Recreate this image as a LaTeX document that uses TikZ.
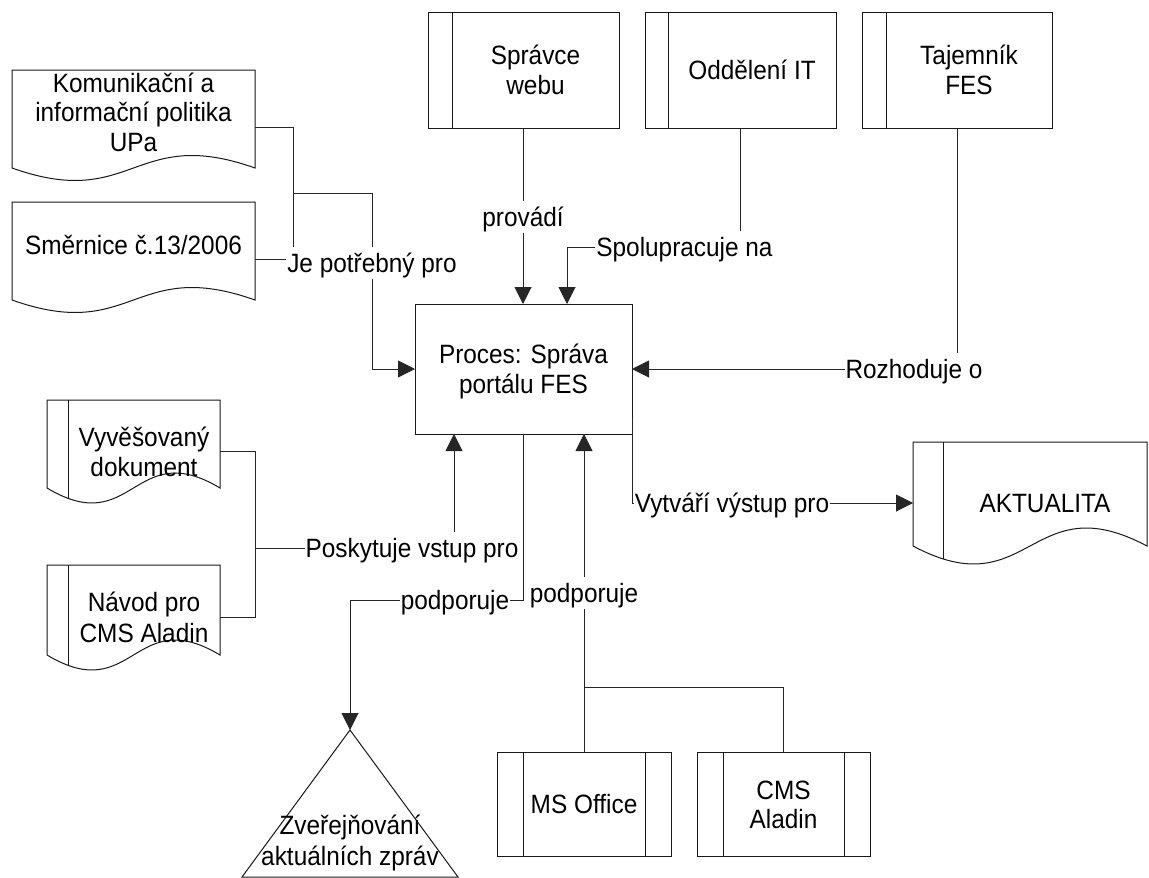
\documentclass[tikz,border=0pt]{standalone}
\usepackage{fontspec}
\setmainfont{Liberation Sans}[FakeStretch=0.92]
\usetikzlibrary{arrows.meta}
\newcommand\lbf{\fontsize{26.5}{29}\selectfont}
\newcommand\vs{\rule[-5pt]{0pt}{29pt}}
\newcommand\docpathspec[5]{(#1,#3) -- (#2,#3) -- (#2,#4) .. controls ({(#1+#2)/2},{#4-3.46*#5}) and ({(#1+#2)/2},{#4+3.46*#5}) .. (#1,#4) -- cycle}
\tikzset{
  shp/.style={draw=black!90, line width=1pt},
  conn/.style={draw=black!85, line width=1pt},
  arr/.style={-{Triangle[length=17pt,width=17pt]}},
  txt/.style={align=center, inner sep=0pt, outer sep=0pt, font=\lbf},
  lbl/.style={fill=white, inner sep=1pt, outer sep=0pt, font=\lbf},
}
\begin{document}
\begin{tikzpicture}[x=1pt,y=-1pt,line join=miter]
\fill[white] (0,0) rectangle (1149,878);
\useasboundingbox (0,0) rectangle (1149,878);

% ---------- top actor boxes ----------
\node[shp,txt,minimum width=167,minimum height=116] (sw) at (535.5,70) {\vs Správce\\\vs webu};
\draw[shp] (sw.north west) -- ++(-24,0) |- (sw.south west);
\node[shp,txt,minimum width=168,minimum height=116] (it) at (752,70) {\vs Oddělení IT};
\draw[shp] (it.north west) -- ++(-23,0) |- (it.south west);
\node[shp,txt,minimum width=166,minimum height=116] (taj) at (969,70) {\vs Tajemník\\\vs FES};
\draw[shp] (taj.north west) -- ++(-24,0) |- (taj.south west);

% ---------- process ----------
\node[shp,txt,minimum width=217,minimum height=130] (proc) at (523.5,369) {\vs Proces: Správa\\\vs portálu FES};

% ---------- documents, left ----------
\draw[shp] \docpathspec{12}{255}{70}{168}{12.5};
\node[txt] (kom) at (133.5,112.5) {\vs Komunikační a\\\vs informační politika\\\vs UPa};
\draw[shp] \docpathspec{12}{255}{202}{300}{12.5};
\node[txt] (sm) at (133.5,245) {\vs Směrnice č.13/2006};

\draw[shp] \docpathspec{47}{220}{400}{488}{15};
\begin{scope}\clip \docpathspec{47}{220}{400}{488}{15};
\draw[shp] (68,400) -- (68,540);\end{scope}
\node[txt] (vyv) at (144,452) {\vs Vyvěšovaný\\\vs dokument};

\draw[shp] \docpathspec{47}{220}{565}{655}{15};
\begin{scope}\clip \docpathspec{47}{220}{565}{655}{15};
\draw[shp] (68,565) -- (68,700);\end{scope}
\node[txt] (nav) at (144,617.5) {\vs Návod pro\\\vs CMS Aladin};

% ---------- document, right ----------
\draw[shp] \docpathspec{913}{1147}{442}{546}{18};
\begin{scope}\clip \docpathspec{913}{1147}{442}{546}{18};
\draw[shp] (943,442) -- (943,600);\end{scope}
\node[txt] (akt) at (1045,503) {\vs AKTUALITA};

% ---------- triangle ----------
\draw[shp] (350,730) -- (458,877) -- (242,877) -- cycle;
\node[txt] (zv) at (350,840.5) {\vs Zveřejňování\\\vs aktuálních zpráv};

% ---------- bottom software boxes ----------
\node[shp,txt,minimum width=122,minimum height=104] (ms) at (584,804) {\vs MS Office};
\draw[shp] (ms.north west) -- ++(-26,0) |- (ms.south west);
\draw[shp] (ms.north east) -- ++(26,0) |- (ms.south east);
\node[shp,txt,minimum width=121,minimum height=104] (cms) at (783.5,804) {\vs CMS\\\vs Aladin};
\draw[shp] (cms.north west) -- ++(-26,0) |- (cms.south west);
\draw[shp] (cms.north east) -- ++(26,0) |- (cms.south east);

% ---------- connector end points ----------
\coordinate (kom-r) at (255,127);
\coordinate (sm-r) at (255,259);
\coordinate (vyv-r) at (220,451);
\coordinate (nav-r) at (220,617);
\coordinate (akt-l) at (913,503);
\coordinate (tri-top) at (350,730);
\coordinate (j-je) at (293,193);
\coordinate (j-pos) at (255,548);
\coordinate (j-sw) at (584,687);

% ---------- connectors ----------
\draw[conn] (kom-r) -- (293,127) -- (293,259) -- (sm-r);
\draw[conn,arr] (j-je) -- (372,193) |- (proc.west);
\draw[conn,arr] ([xshift=-12.5pt]sw.south) -- ([xshift=-0.5pt]proc.north);
\draw[conn,arr] ([xshift=-12pt]it.south) |- (567,247) -- ([xshift=43.5pt]proc.north);
\draw[conn,arr] ([xshift=-11.5pt]taj.south) |- (proc.east);
\draw[conn,arr] ([yshift=-49pt]proc.east) |- (akt-l);
\draw[conn] (vyv-r) -- (255,451) -- (255,617) -- (nav-r);
\draw[conn,arr] (j-pos) -| ([xshift=-69.5pt]proc.south);
\draw[conn,arr] ([xshift=-0.5pt]proc.south) |- (350,600) -- (tri-top);
\draw[conn] (ms.north) -- (j-sw);
\draw[conn] (cms.north) |- (j-sw);
\draw[conn,arr] (j-sw) -- ([xshift=60.5pt]proc.south);

% ---------- connector labels ----------
\node[lbl] (l-je) at (372,263) {\vs Je potřebný pro};
\node[lbl] (l-pr) at (523,217) {\vs provádí};
\node[lbl] (l-sp) at (684.5,247) {\vs Spolupracuje na};
\node[lbl] (l-ro) at (914,369) {\vs Rozhoduje o};
\node[lbl] (l-vy) at (732,503) {\vs Vytváří výstup pro};
\node[lbl] (l-po) at (412,548) {\vs Poskytuje vstup pro};
\node[lbl] (l-pd1) at (455,600) {\vs podporuje};
\node[lbl] (l-pd2) at (584,593) {\vs podporuje};
\end{tikzpicture}
\end{document}
